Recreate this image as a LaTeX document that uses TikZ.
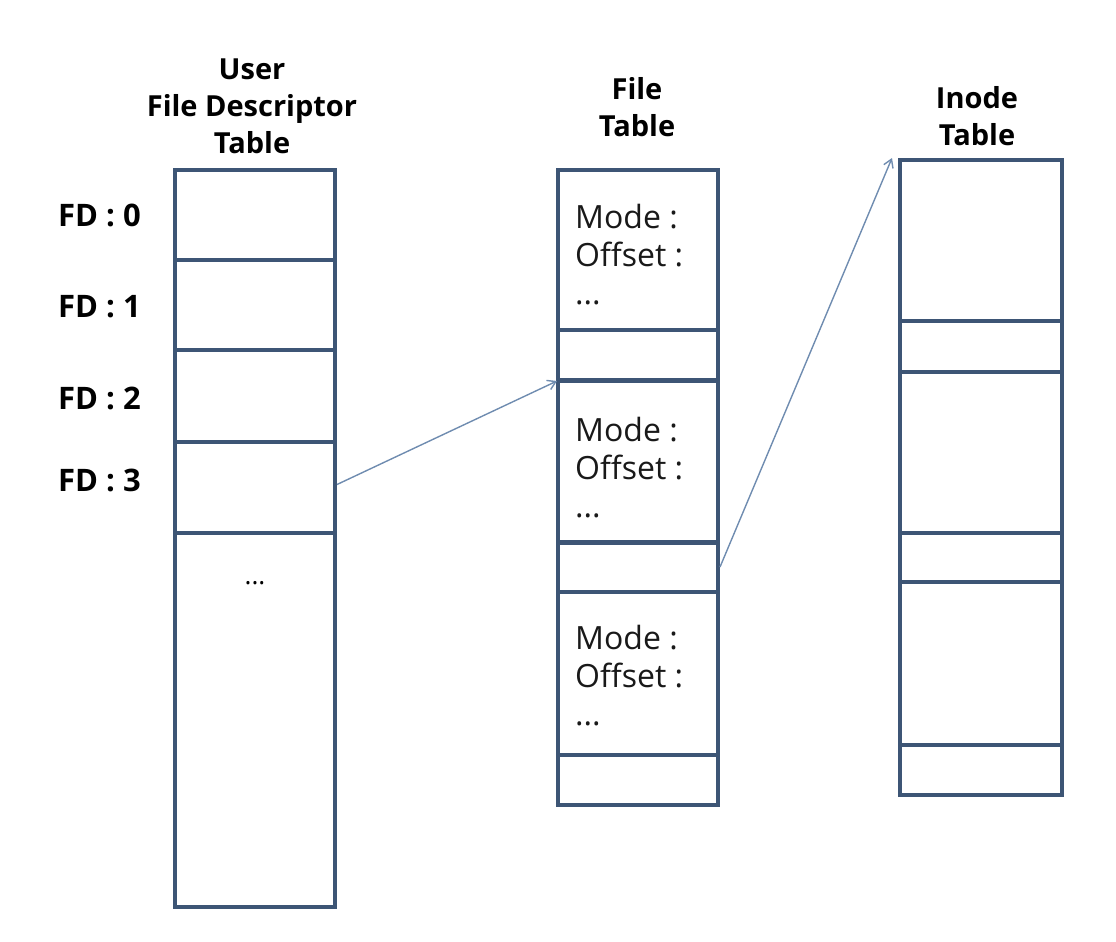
\documentclass[tikz,border=0pt]{standalone}
\usepackage{fontspec}
\setmainfont{Open Sans}
\usetikzlibrary{arrows.meta}
\definecolor{boxline}{HTML}{3D5575}
\definecolor{arrowc}{HTML}{6F8CB0}
\begin{document}
\begin{tikzpicture}[x=1pt,y=-1pt,
  cell/.style={draw=boxline,line width=3.3pt,minimum width=160pt,anchor=north west,inner sep=0pt,outer sep=0pt},
  ttl/.style={font=\fontsize{29}{37}\selectfont\bfseries,align=center,text=black},
  fdl/.style={font=\fontsize{31}{34}\selectfont\bfseries,anchor=west,text=black,inner sep=0pt},
  body/.style={font=\fontsize{32}{38}\selectfont,align=left,anchor=north west,text=black!90,inner sep=0pt},
  conn/.style={draw=arrowc,line width=1.4pt,-{Straight Barb[length=8pt,width=10pt]}}]
\useasboundingbox (0,0) rectangle (1116,942);
% user fd table
\node[cell,minimum height=90pt] (u0) at (175,170) {};
\node[cell,minimum height=90pt] (u1) at (175,260) {};
\node[cell,minimum height=92pt] (u2) at (175,350) {};
\node[cell,minimum height=91pt] (u3) at (175,442) {};
\node[cell,minimum height=374pt] (u4) at (175,533) {};
\node[font=\fontsize{26}{30}\selectfont] (udots) at (255,583) {...};
\node[ttl] (ut) at (252,106) {User\\File Descriptor\\Table};
\node[fdl] (fd0) at (58,215) {FD : 0};
\node[fdl] (fd1) at (58,307) {FD : 1};
\node[fdl] (fd2) at (58,398) {FD : 2};
\node[fdl] (fd3) at (58,480) {FD : 3};
% file table
\node[cell,minimum height=160pt] (f0) at (558,170) {};
\node[cell,minimum height=50pt] (f1) at (558,330) {};
\node[cell,minimum height=162pt] (f2) at (558,381) {};
\node[cell,minimum height=50pt] (f3) at (558,542) {};
\node[cell,minimum height=163pt] (f4) at (558,592) {};
\node[cell,minimum height=50pt] (f5) at (558,755) {};
\node[body] (m0) at (575,204) {Mode :\\Offset :\\...};
\node[body] (m1) at (575,417) {Mode :\\Offset :\\...};
\node[body] (m2) at (575,625) {Mode :\\Offset :\\...};
\node[ttl] (ft) at (637,107) {File\\Table};
% inode table
\node[cell,minimum width=162pt,minimum height=161pt] (i0) at (900,160) {};
\node[cell,minimum width=162pt,minimum height=51pt] (i1) at (900,321) {};
\node[cell,minimum width=162pt,minimum height=161pt] (i2) at (900,372) {};
\node[cell,minimum width=162pt,minimum height=49pt] (i3) at (900,533) {};
\node[cell,minimum width=162pt,minimum height=163pt] (i4) at (900,582) {};
\node[cell,minimum width=162pt,minimum height=50pt] (i5) at (900,745) {};
\node[ttl] (it) at (977,116) {Inode\\Table};
% connectors
\draw[conn] ([xshift=2pt,yshift=3pt]u3.east) -- ([xshift=-1pt]f2.north west);
\draw[conn] ([xshift=2pt]f3.east) -- ([xshift=-8pt,yshift=2pt]i0.north west);
\end{tikzpicture}
\end{document}
